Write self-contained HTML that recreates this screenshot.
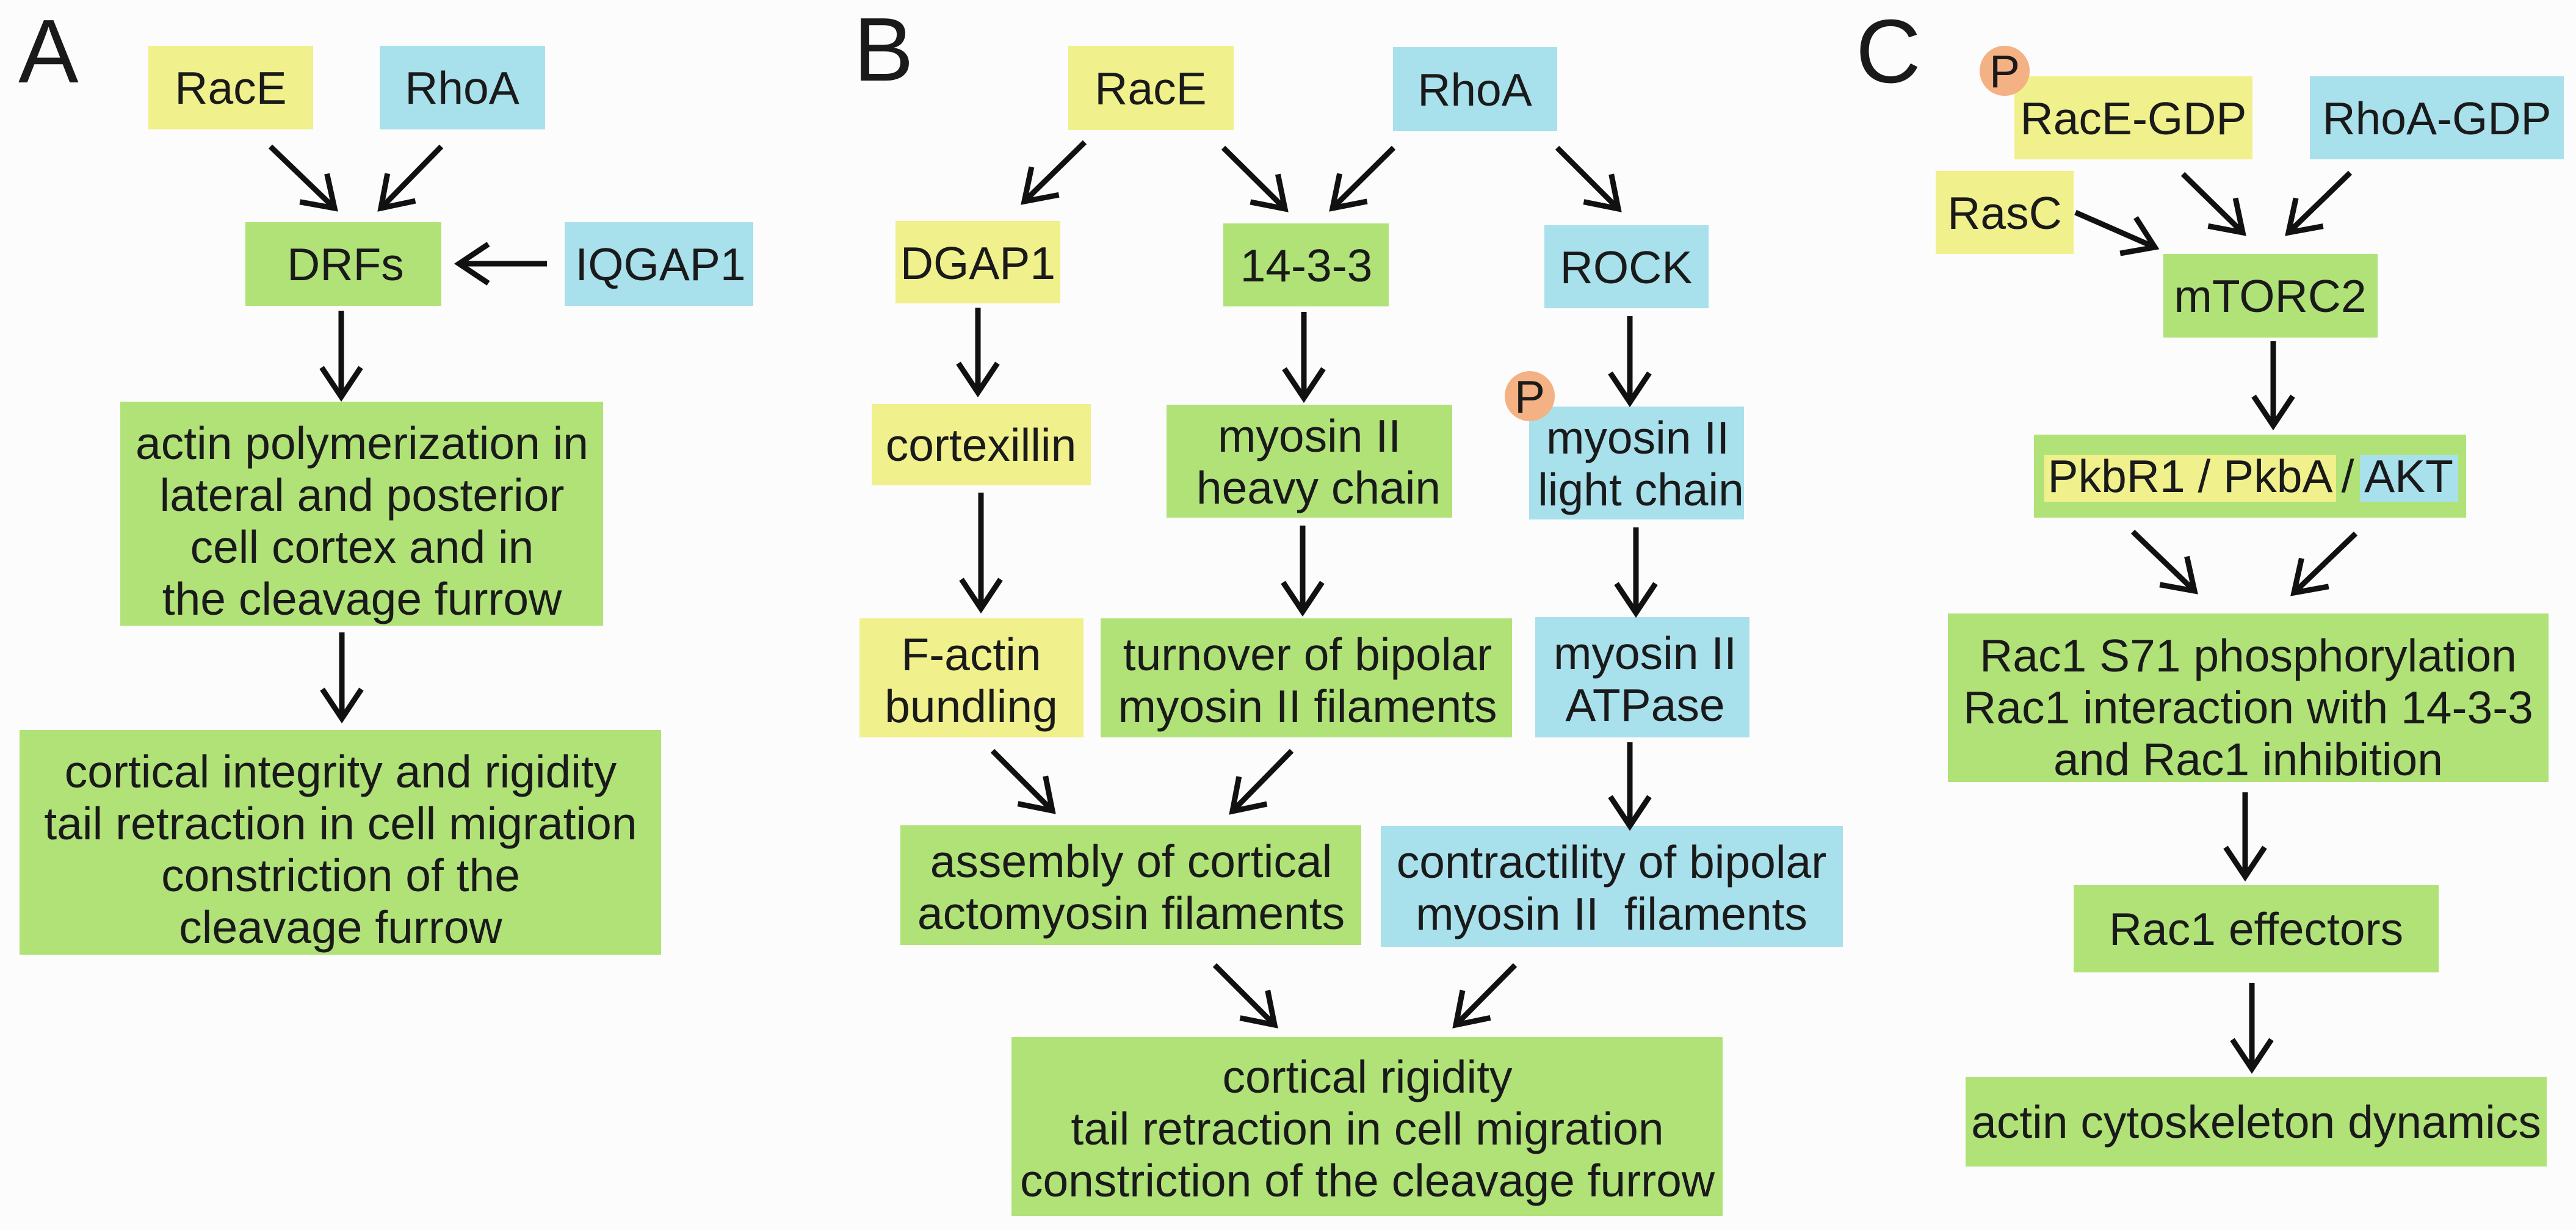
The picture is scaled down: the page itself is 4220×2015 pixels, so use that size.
<!DOCTYPE html>
<html><head><meta charset="utf-8"><style>
html,body{margin:0;padding:0;background:#fcfcfc;}
svg{display:block;}
text{font-family:"Liberation Sans",Arial,sans-serif;fill:#1a1a1a;}
</style></head><body>
<svg width="4220" height="2015" viewBox="0 0 4220 2015" xmlns="http://www.w3.org/2000/svg">
<defs>
<marker id="h" markerUnits="userSpaceOnUse" markerWidth="120" markerHeight="120" viewBox="-60 -60 120 120" refX="0" refY="0" orient="auto">
<path d="M-48,-32 L0,0 L-48,32" fill="none" stroke="#111" stroke-width="9"/>
</marker>
</defs>
<rect width="4220" height="2015" fill="#fcfcfc"/>
<g font-size="148">
<text x="30" y="135">A</text>
<text x="1398" y="132">B</text>
<text x="3040" y="135">C</text>
</g>
<!-- boxes -->
<g>
<!-- A -->
<rect x="243" y="75" width="270" height="137" fill="#f0f08c"/>
<rect x="622" y="75" width="271" height="137" fill="#a8e0ec"/>
<rect x="402" y="364" width="321" height="137" fill="#b0e278"/>
<rect x="925" y="364" width="309" height="137" fill="#a8e0ec"/>
<rect x="197" y="658" width="791" height="367" fill="#b0e278"/>
<rect x="32" y="1196" width="1051" height="368" fill="#b0e278"/>
<!-- B -->
<rect x="1750" y="75" width="271" height="138" fill="#f0f08c"/>
<rect x="2282" y="77" width="269" height="138" fill="#a8e0ec"/>
<rect x="1467" y="362" width="270" height="135" fill="#f0f08c"/>
<rect x="2004" y="366" width="271" height="136" fill="#b0e278"/>
<rect x="2530" y="369" width="269" height="136" fill="#a8e0ec"/>
<rect x="1428" y="662" width="359" height="133" fill="#f0f08c"/>
<rect x="1911" y="663" width="468" height="185" fill="#b0e278"/>
<rect x="2505" y="666" width="352" height="185" fill="#a8e0ec"/>
<rect x="1408" y="1013" width="367" height="195" fill="#f0f08c"/>
<rect x="1803" y="1013" width="674" height="195" fill="#b0e278"/>
<rect x="2515" y="1011" width="351" height="197" fill="#a8e0ec"/>
<rect x="1475" y="1352" width="755" height="196" fill="#b0e278"/>
<rect x="2262" y="1353" width="757" height="198" fill="#a8e0ec"/>
<rect x="1657" y="1699" width="1165" height="293" fill="#b0e278"/>
<circle cx="2506" cy="649" r="41" fill="#f4b183"/>
<!-- C -->
<rect x="3300" y="125" width="390" height="136" fill="#f0f08c"/>
<rect x="3784" y="125" width="416" height="136" fill="#a8e0ec"/>
<rect x="3171" y="280" width="226" height="136" fill="#f0f08c"/>
<rect x="3544" y="416" width="351" height="137" fill="#b0e278"/>
<rect x="3332" y="712" width="708" height="136" fill="#b0e278"/>
<rect x="3349" y="745" width="478" height="77" fill="#f0f08c"/>
<rect x="3866" y="745" width="161" height="77" fill="#a8e0ec"/>
<rect x="3191" y="1005" width="984" height="276" fill="#b0e278"/>
<rect x="3397" y="1450" width="598" height="143" fill="#b0e278"/>
<rect x="3220" y="1764" width="952" height="147" fill="#b0e278"/>
<circle cx="3284" cy="116" r="41" fill="#f4b183"/>
</g>
<!-- arrows -->
<g stroke="#111" stroke-width="9" fill="none" marker-end="url(#h)">
<line x1="443" y1="240" x2="548" y2="341"/>
<line x1="723" y1="240" x2="624" y2="341"/>
<line x1="896" y1="432" x2="752" y2="432"/>
<line x1="559" y1="509" x2="559" y2="650"/>
<line x1="560" y1="1036" x2="560" y2="1177"/>

<line x1="1777" y1="233" x2="1678" y2="330"/>
<line x1="2004" y1="242" x2="2105" y2="342"/>
<line x1="2283" y1="242" x2="2183" y2="341"/>
<line x1="2551" y1="242" x2="2651" y2="342"/>
<line x1="1602" y1="504" x2="1602" y2="643"/>
<line x1="2136" y1="511" x2="2136" y2="652"/>
<line x1="2670" y1="518" x2="2670" y2="659"/>
<line x1="1607" y1="807" x2="1607" y2="997"/>
<line x1="2134" y1="861" x2="2134" y2="1002"/>
<line x1="2680" y1="864" x2="2680" y2="1004"/>
<line x1="1626" y1="1230" x2="1724" y2="1328"/>
<line x1="2116" y1="1230" x2="2019" y2="1329"/>
<line x1="2670" y1="1216" x2="2670" y2="1353"/>
<line x1="1990" y1="1581" x2="2088" y2="1679"/>
<line x1="2482" y1="1581" x2="2385" y2="1679"/>

<line x1="3400" y1="348" x2="3530" y2="405"/>
<line x1="3576" y1="285" x2="3674" y2="381"/>
<line x1="3850" y1="283" x2="3749" y2="381"/>
<line x1="3724" y1="559" x2="3724" y2="697"/>
<line x1="3494" y1="871" x2="3595" y2="968"/>
<line x1="3859" y1="874" x2="3758" y2="971"/>
<line x1="3678" y1="1298" x2="3678" y2="1436"/>
<line x1="3689" y1="1610" x2="3689" y2="1751"/>
</g>
<!-- text -->
<g font-size="75" text-anchor="middle">
<text x="378" y="170">RacE</text>
<text x="757" y="170">RhoA</text>
<text x="566" y="459">DRFs</text>
<text x="1082" y="459">IQGAP1</text>
<text x="593" y="752">actin polymerization in</text>
<text x="593" y="837">lateral and posterior</text>
<text x="593" y="922">cell cortex and in</text>
<text x="593" y="1007">the cleavage furrow</text>
<text x="558" y="1290">cortical integrity and rigidity</text>
<text x="558" y="1375">tail retraction in cell migration</text>
<text x="558" y="1460">constriction of the</text>
<text x="558" y="1545">cleavage furrow</text>

<text x="1885" y="171">RacE</text>
<text x="2416" y="173">RhoA</text>
<text x="1602" y="457">DGAP1</text>
<text x="2140" y="461">14-3-3</text>
<text x="2664" y="464">ROCK</text>
<text x="1607" y="755">cortexillin</text>
<text x="2145" y="740">myosin II</text>
<text x="2160" y="825">heavy chain</text>
<text x="2683" y="743">myosin II</text>
<text x="2688" y="828">light chain</text>
<text x="1591" y="1098">F-actin</text>
<text x="1591" y="1183">bundling</text>
<text x="2142" y="1098">turnover of bipolar</text>
<text x="2142" y="1183">myosin II filaments</text>
<text x="2695" y="1096">myosin II</text>
<text x="2695" y="1181">ATPase</text>
<text x="1853" y="1437">assembly of cortical</text>
<text x="1853" y="1522">actomyosin filaments</text>
<text x="2640" y="1438">contractility of bipolar</text>
<text x="2640" y="1523" xml:space="preserve">myosin II  filaments</text>
<text x="2240" y="1790">cortical rigidity</text>
<text x="2240" y="1875">tail retraction in cell migration</text>
<text x="2240" y="1960">constriction of the cleavage furrow</text>

<text x="3495" y="220">RacE-GDP</text>
<text x="3992" y="220">RhoA-GDP</text>
<text x="3284" y="375">RasC</text>
<text x="3719" y="511">mTORC2</text>
<text x="3588" y="806">PkbR1 / PkbA</text>
<text x="3846" y="806">/</text>
<text x="3946" y="806">AKT</text>
<text x="3683" y="1100">Rac1 S71 phosphorylation</text>
<text x="3683" y="1185">Rac1 interaction with 14-3-3</text>
<text x="3683" y="1270">and Rac1 inhibition</text>
<text x="3696" y="1548">Rac1 effectors</text>
<text x="3696" y="1864">actin cytoskeleton dynamics</text>
<text x="2506" y="676">P</text>
<text x="3284" y="143">P</text>
</g>
</svg>
</body></html>
